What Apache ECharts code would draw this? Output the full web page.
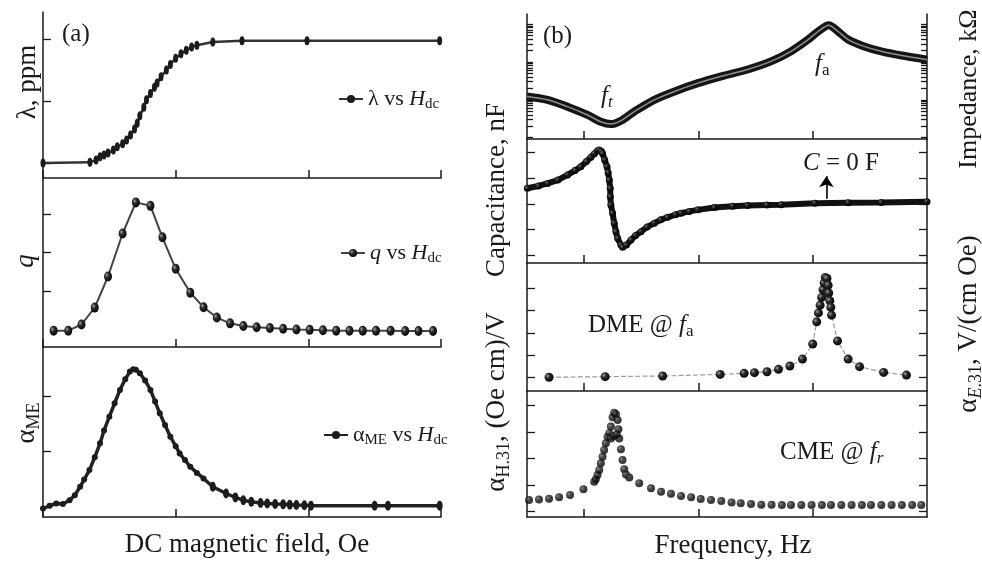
<!DOCTYPE html>
<html><head><meta charset="utf-8">
<script src="https://cdn.jsdelivr.net/npm/echarts@6/dist/echarts.min.js"></script>
<style>html,body{margin:0;padding:0;background:#fff}#c{width:982px;height:561px}</style>
</head><body><div id="c"></div>
<script>
// ---------------- data (a): DC magnetic field, arbitrary units 0..3 ----------------
const lambdaPts = [[0,0],[0.354,0.01],[0.40,0.05],[0.43,0.10],[0.46,0.13],[0.49,0.16],[0.53,0.21],[0.56,0.26],[0.60,0.31],[0.63,0.37],[0.66,0.45],[0.69,0.55],[0.71,0.64],[0.73,0.76],[0.76,0.90],[0.78,1.02],[0.81,1.12],[0.84,1.22],[0.86,1.29],[0.89,1.39],[0.93,1.50],[0.96,1.59],[1.00,1.69],[1.04,1.76],[1.08,1.82],[1.12,1.87],[1.16,1.90],[1.28,1.95],[1.50,1.97],[1.99,1.97],[2.99,1.97]];
const qPts = [[0.08,-0.03],[0.19,-0.03],[0.29,0.13],[0.39,0.57],[0.49,1.38],[0.60,2.50],[0.70,3.31],[0.81,3.22],[0.90,2.40],[1.00,1.58],[1.11,0.96],[1.21,0.58],[1.31,0.31],[1.41,0.16],[1.51,0.09],[1.61,0.06],[1.71,0.04],[1.81,0.02],[1.91,0.00],[2.01,-0.01],[2.11,-0.02],[2.21,-0.03],[2.31,-0.03],[2.41,-0.03],[2.51,-0.03],[2.62,-0.03],[2.73,-0.04],[2.83,-0.04],[2.94,-0.04]];
const alphaPts = [[0,-0.02],[0.05,0.03],[0.10,0.07],[0.15,0.06],[0.20,0.13],[0.24,0.22],[0.28,0.37],[0.31,0.50],[0.35,0.67],[0.39,0.90],[0.43,1.15],[0.46,1.38],[0.50,1.63],[0.54,1.87],[0.58,2.11],[0.62,2.30],[0.655,2.44],[0.68,2.48],[0.70,2.47],[0.73,2.41],[0.77,2.28],[0.81,2.11],[0.845,1.90],[0.88,1.69],[0.92,1.48],[0.96,1.27],[1.00,1.10],[1.03,0.97],[1.07,0.85],[1.11,0.73],[1.16,0.62],[1.21,0.52],[1.28,0.37],[1.38,0.25],[1.45,0.18],[1.51,0.13],[1.57,0.10],[1.64,0.08],[1.69,0.07],[1.75,0.06],[1.81,0.055],[1.86,0.05],[1.91,0.045],[1.97,0.04],[2.02,0.03],[2.50,0.03],[2.60,0.03],[2.99,0.03]];
// ---------------- data (b): frequency (log decades, arbitrary) ----------------
const impedanceLogPts = [[-0.5,1.09],[-0.32,1.0],[-0.146,0.82],[0.03,0.60],[0.146,0.42],[0.234,0.36],[0.322,0.45],[0.439,0.69],[0.614,1.0],[0.79,1.22],[0.995,1.44],[1.2,1.62],[1.43,1.80],[1.64,2.02],[1.81,2.28],[1.96,2.59],[2.05,2.81],[2.14,2.97],[2.22,2.81],[2.31,2.59],[2.45,2.41],[2.6,2.28],[2.78,2.17],[3.0,2.06]];
const capPts = [[-0.497,0.61],[-0.4,0.70],[-0.32,0.80],[-0.23,0.93],[-0.146,1.13],[-0.08,1.30],[-0.03,1.45],[0.02,1.65],[0.059,1.82],[0.09,1.96],[0.117,2.07],[0.132,2.10],[0.15,2.05],[0.161,1.97],[0.18,1.71],[0.20,1.45],[0.21,1.22],[0.22,0.93],[0.228,0.61],[0.229,0.28],[0.234,-0.04],[0.249,-0.36],[0.263,-0.75],[0.278,-1.08],[0.293,-1.34],[0.322,-1.60],[0.337,-1.69],[0.37,-1.60],[0.41,-1.40],[0.45,-1.23],[0.497,-1.08],[0.55,-0.90],[0.614,-0.75],[0.67,-0.62],[0.73,-0.52],[0.80,-0.42],[0.848,-0.36],[0.92,-0.29],[0.995,-0.23],[1.14,-0.14],[1.30,-0.09],[1.43,-0.06],[1.60,-0.04],[1.725,-0.03],[2.02,0.03],[2.31,0.05],[2.60,0.06],[3.0,0.09]];
const dmePts = [[-0.307,0.0],[0.184,0.03],[0.687,0.06],[1.19,0.13],[1.40,0.18],[1.49,0.21],[1.60,0.25],[1.70,0.36],[1.80,0.51],[1.91,0.82],[2.00,1.50],[2.035,2.50],[2.05,2.90],[2.065,3.25],[2.078,3.60],[2.09,3.95],[2.10,4.25],[2.11,4.50],[2.125,4.45],[2.135,4.15],[2.14,3.80],[2.15,3.45],[2.158,3.15],[2.165,2.80],[2.217,1.64],[2.31,0.82],[2.41,0.48],[2.62,0.22],[2.82,0.10]];
const cmePts = [[-0.482,0.44],[-0.395,0.46],[-0.307,0.49],[-0.219,0.54],[-0.123,0.63],[-0.006,0.84],[0.088,1.13],[0.102,1.22],[0.117,1.38],[0.132,1.57],[0.146,1.82],[0.161,2.07],[0.175,2.32],[0.19,2.57],[0.205,2.82],[0.22,2.95],[0.234,3.20],[0.249,3.55],[0.263,3.72],[0.278,3.67],[0.293,3.45],[0.30,3.10],[0.307,2.75],[0.322,2.35],[0.336,1.94],[0.351,1.60],[0.366,1.40],[0.235,2.75],[0.26,2.85],[0.285,2.90],[0.395,1.29],[0.482,1.07],[0.585,0.88],[0.673,0.75],[0.76,0.67],[0.848,0.59],[0.936,0.54],[1.02,0.48],[1.11,0.44],[1.20,0.40],[1.29,0.35],[1.37,0.32],[1.46,0.29],[1.55,0.26],[1.64,0.26],[1.73,0.25],[1.81,0.25],[1.90,0.25],[1.99,0.25],[2.08,0.25],[2.16,0.25],[2.25,0.25],[2.34,0.25],[2.43,0.25],[2.51,0.25],[2.60,0.25],[2.69,0.25],[2.78,0.25],[2.87,0.25],[2.95,0.25]];
// ---------------- ticks ----------------
const lambdaTicks = [0,1,2];
const qTicks = [1,2,3];
const alphaTicks = [1,2];
const freqTicks = [0,1,2];
const impDecades = [0,1,2,3];
const logMultipliers = [1,2,3,4,5,6,7,8,9];
const capTicks = [-2,-1,0,1,2];
const dmeTicks = [0,1,2,3,4];
const cmeTicks = [0,1,2,3,4];
const impTicks = impDecades.flatMap(d => logMultipliers.map(m => d + Math.log10(m))).filter(v => v <= 3.26);

const F = "'Liberation Serif','DejaVu Serif',serif";
const INK = '#1a1a1a';
const ball = {type:'radial',x:0.35,y:0.35,r:0.75,colorStops:[{offset:0,color:'#a0a0a0'},{offset:0.35,color:'#2a2a2a'},{offset:1,color:'#000'}]};
const darkBall = {type:'radial',x:0.35,y:0.35,r:0.75,colorStops:[{offset:0,color:'#6a6a6a'},{offset:0.4,color:'#151515'},{offset:1,color:'#000'}]};

const rich = {
  n:{fontFamily:F,fontSize:27,lineHeight:32,color:INK},
  m:{fontFamily:F,fontSize:26,lineHeight:32,color:INK},
  i:{fontFamily:F,fontSize:27,lineHeight:32,fontStyle:'italic',color:INK},
  s:{fontFamily:F,fontSize:18,verticalAlign:'bottom',color:INK},
  si:{fontFamily:F,fontSize:18,verticalAlign:'bottom',fontStyle:'italic',color:INK},
  a:{fontFamily:F,fontSize:25,lineHeight:30,color:INK},
  ai:{fontFamily:F,fontSize:25,lineHeight:30,fontStyle:'italic',color:INK},
  as:{fontFamily:F,fontSize:17,verticalAlign:'bottom',color:INK},
  asi:{fontFamily:F,fontSize:17,verticalAlign:'bottom',fontStyle:'italic',color:INK}
};
const legRich = {
  n:{fontFamily:F,fontSize:22,lineHeight:26,color:INK},
  i:{fontFamily:F,fontSize:22,lineHeight:26,fontStyle:'italic',color:INK},
  s:{fontFamily:F,fontSize:15,verticalAlign:'bottom',color:INK}
};
const legendText = {
  'λ vs Hdc':'{n|λ vs }{i|H}{s|dc}',
  'q vs Hdc':'{i|q}{n| vs }{i|H}{s|dc}',
  'αME vs Hdc':'{n|α}{s|ME}{n| vs }{i|H}{s|dc}'
};

function txt(x, y, text, rot, align) {
  return {type:'text', x:x, y:y, rotation: rot ? Math.PI/2 : 0, z:100,
    style:{text:text, rich:rich, fill:INK, align:align||'center', verticalAlign:'middle',
           textAlign:align||'center', textVerticalAlign:'middle'}};
}
const axLine = {show:true,onZero:false,lineStyle:{color:INK,width:1.5}};
function xAx(grid, min, max, ticks) {
  return {type:'value', gridIndex:grid, min:min, max:max, axisLine:axLine,
    axisTick:{show:true,inside:true,length:8,customValues:ticks,lineStyle:{color:INK,width:1.5}},
    axisLabel:{show:false}, splitLine:{show:false}};
}
function yAx(grid, min, max, ticks, pos, len) {
  return {type:'value', gridIndex:grid, min:min, max:max, position:pos||'left', axisLine:axLine,
    axisTick:{show:true,inside:true,length:len||8,customValues:ticks,lineStyle:{color:INK,width:1.3}},
    axisLabel:{show:false}, splitLine:{show:false}};
}
function leg(name, left, top) {
  return {data:[name], left:left, top:top, padding:0, itemWidth:24, itemHeight:10, itemGap:0,
    selectedMode:false, formatter:(n)=>legendText[n], textStyle:{fontFamily:F,fontSize:22,color:INK,rich:legRich}};
}

const option = {
  animation:false,
  backgroundColor:'#fff',
  grid:[
    {left:43, width:398, top:12, height:166},
    {left:43, width:398, top:178, height:169},
    {left:43, width:398, top:347, height:170},
    {left:527, width:400, top:14, height:125},
    {left:527, width:400, top:139, height:124},
    {left:527, width:400, top:263, height:128},
    {left:527, width:400, top:391, height:126}
  ],
  xAxis:[
    xAx(0,0,3,[0,1,2,3]), xAx(1,0,3,[0,1,2,3]), xAx(2,0,3,[0,1,2,3]),
    xAx(3,-0.5,3,freqTicks), xAx(4,-0.5,3,freqTicks), xAx(5,-0.5,3,freqTicks), xAx(6,-0.5,3,freqTicks)
  ],
  yAxis:[
    yAx(0,-0.242,2.435,lambdaTicks), yAx(1,-0.456,3.945,qTicks), yAx(2,-0.172,2.88,alphaTicks),
    yAx(3,-0.034,3.265,impTicks,'left',6), yAx(3,-0.034,3.265,impTicks,'right',6),
    yAx(4,-2.30,2.53,capTicks), yAx(4,-2.30,2.53,capTicks,'right'),
    yAx(5,-0.617,5.15,dmeTicks), yAx(5,-0.617,5.15,dmeTicks,'right'),
    yAx(6,-0.2,4.54,cmeTicks), yAx(6,-0.2,4.54,cmeTicks,'right')
  ],
  legend:[ leg('λ vs Hdc',338,88), leg('q vs Hdc',340,242), leg('αME vs Hdc',323,424) ],
  series:[
    {name:'λ vs Hdc', type:'line', xAxisIndex:0, yAxisIndex:0, data:lambdaPts, showAllSymbol:true,
     symbol:'circle', symbolSize:[5,9], itemStyle:{color:'#1c1c1c'}, lineStyle:{color:'#333',width:2.5}},
    {name:'q vs Hdc', type:'line', xAxisIndex:1, yAxisIndex:1, data:qPts, showAllSymbol:true,
     symbol:'circle', symbolSize:[8,10], itemStyle:{color:ball}, lineStyle:{color:'#444',width:2}},
    {name:'αME vs Hdc', type:'line', xAxisIndex:2, yAxisIndex:2, data:alphaPts, showAllSymbol:true,
     symbol:'circle', symbolSize:(v)=> v[0] < 1.25 ? 6 : [6,10], itemStyle:{color:'#1c1c1c'}, lineStyle:{color:'#222',width:3.5}},
    {name:'Impedance', type:'line', xAxisIndex:3, yAxisIndex:3, data:impedanceLogPts, smooth:0.3,
     symbol:'none', lineStyle:{color:'#151515',width:8}},
    {name:'Impedance core', type:'line', xAxisIndex:3, yAxisIndex:3, data:impedanceLogPts, smooth:0.3,
     symbol:'none', lineStyle:{color:'#8f8f8f',width:1.5}},
    {name:'Capacitance', type:'line', xAxisIndex:4, yAxisIndex:5, data:capPts, showAllSymbol:true,
     symbol:'circle', symbolSize:7, itemStyle:{color:darkBall}, lineStyle:{color:'#111',width:6},
     markLine:{silent:true, symbol:['none','arrow'], symbolSize:11, label:{show:false},
       lineStyle:{color:'#000',width:1.6,type:'solid'},
       data:[[{coord:[2.12,0.2]},{coord:[2.12,1.08]}]]}},
    {name:'DME', type:'line', xAxisIndex:5, yAxisIndex:7, data:dmePts, showAllSymbol:true,
     symbol:'circle', symbolSize:9, itemStyle:{color:ball}, lineStyle:{color:'#999',width:1.2,type:'dashed'}},
    {name:'CME', type:'scatter', xAxisIndex:6, yAxisIndex:9, data:cmePts,
     symbol:'circle', symbolSize:8, itemStyle:{color:darkBall}}
  ],
  graphic:[
    txt(62,34,'{a|(a)}',false,'left'),
    txt(543,36,'{a|(b)}',false,'left'),
    txt(28,82,'{n|λ, ppm}',true),
    txt(26,261,'{i|q}',true),
    txt(27,423,'{n|α}{s|ME}',true),
    txt(247,545,'{n|DC magnetic field, Oe}'),
    txt(733,546,'{n|Frequency, Hz}'),
    txt(497,190,'{n|Capacitance, nF}',true),
    txt(497,402,'{n|α}{s|H.31}{n|, (Oe cm)/V}',true),
    txt(969,89,'{m|Impedance, kΩ}',true),
    txt(969,324,'{n|α}{si|E}{s|.31}{n|, V/(cm Oe)}',true),
    txt(601,96,'{ai|f}{asi|t}',false,'left'),
    txt(815,64,'{ai|f}{as|a}',false,'left'),
    txt(803,163,'{ai|C}{a| = 0 F}',false,'left'),
    txt(588,325,'{a|DME @ }{ai|f}{as|a}',false,'left'),
    txt(780,452,'{a|CME @ }{ai|f}{asi|r}',false,'left')
  ]
};
const chart = echarts.init(document.getElementById('c'), null, {renderer:'canvas'});
chart.setOption(option);
</script></body></html>
